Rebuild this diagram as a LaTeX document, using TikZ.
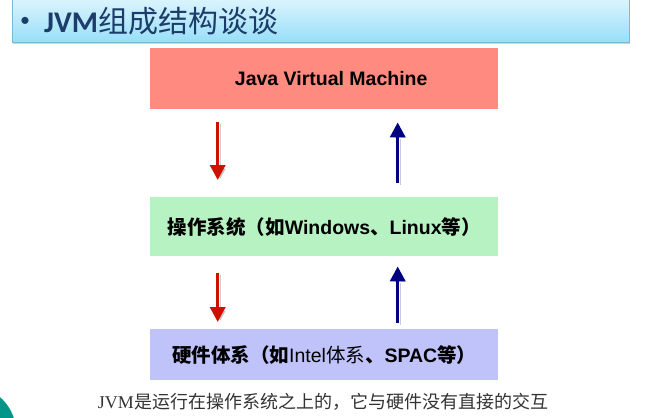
\documentclass[tikz,border=0pt]{standalone}
\usepackage{fontspec}
\setmainfont{Liberation Sans}
\newfontfamily\cjk{Noto Sans CJK SC}
\newfontfamily\titlefont{Carlito}
\newfontfamily\capfont{Liberation Serif}
\usepackage{tikz}
\usetikzlibrary{arrows.meta,shadows}
\usepackage{xcolor}
\definecolor{jvmred}{RGB}{255,138,128}
\definecolor{osgreen}{RGB}{183,242,194}
\definecolor{hwblue}{RGB}{191,195,250}
\definecolor{bartop}{RGB}{230,248,254}
\definecolor{barbottom}{RGB}{152,223,249}
\definecolor{barline}{RGB}{122,184,212}
\definecolor{titlenavy}{RGB}{28,60,105}
\definecolor{downred}{RGB}{204,17,0}
\definecolor{upblue}{RGB}{0,0,128}
\definecolor{tealcorner}{RGB}{0,150,136}

\begin{document}
\begin{tikzpicture}[x=1pt,y=-1pt,
  layer/.style={anchor=north west, minimum width=348pt, inner sep=0pt,
    font=\bfseries\fontsize{19.5}{22}\selectfont},
  flow/.style={line width=3.4pt, -{Triangle[width=15pt,length=15pt]},
    preaction={draw=black!40, opacity=0.5, transform canvas={shift={(2.5pt,-2pt)}}}},
  downflow/.style={flow, downred},
  upflow/.style={flow, upblue}]
  \useasboundingbox (0,0) rectangle (654,418);

  % Title bar
  \draw[barline, top color=bartop, bottom color=barbottom,
    drop shadow={shadow xshift=1pt, shadow yshift=-2pt, opacity=0.35}] (12,-8) rectangle (629,42);
  \node[anchor=base, inner sep=0pt, text=titlenavy, font=\titlefont\fontsize{20}{22}\selectfont] (bullet) at (25,26) {•};
  \node[anchor=base west, inner sep=0pt, text=titlenavy, font=\fontsize{30}{32}\selectfont] (title) at (44,32)
    {{\titlefont\bfseries JVM}{\cjk 组成结构谈谈}};

  % Layers
  \node[layer, fill=jvmred, minimum height=61pt, font=\bfseries\fontsize{19.5}{22}\selectfont] (jvm) at (150,48)
    {\hspace*{14pt}Java Virtual Machine};
  \node[layer, fill=osgreen, minimum height=59pt] (os) at (150,197)
    {{\cjk 操作系统（如}Windows{\cjk 、}Linux{\cjk 等）}};
  \node[layer, fill=hwblue, minimum height=51pt] (hw) at (150,329)
    {{\cjk 硬件体系（如}{\mdseries Intel\cjk 体系}{\cjk 、}SPAC{\cjk 等）}};

  % Down arrows
  \draw[downflow, shorten <=13pt, shorten >=17pt] ([xshift=-106.5pt]jvm.south) -- ([xshift=-106.5pt]os.north);
  \draw[downflow, shorten <=17pt, shorten >=7pt] ([xshift=-106.5pt]os.south) -- ([xshift=-106.5pt]hw.north);

  % Up arrows
  \draw[upflow, shorten <=14pt, shorten >=13pt] ([xshift=73.5pt]os.north) -- ([xshift=73.5pt]jvm.south);
  \draw[upflow, shorten <=6pt, shorten >=10pt] ([xshift=73.5pt]hw.north) -- ([xshift=73.5pt]os.south);

  % Caption
  \node[text=black!80, font=\fontsize{18}{20}\selectfont] (note) at (323,402)
    {{\capfont JVM}{\cjk 是运行在操作系统之上的，它与硬件没有直接的交互}};

  \fill[tealcorner] (-30,432) circle[radius=46pt];
\end{tikzpicture}
\end{document}
